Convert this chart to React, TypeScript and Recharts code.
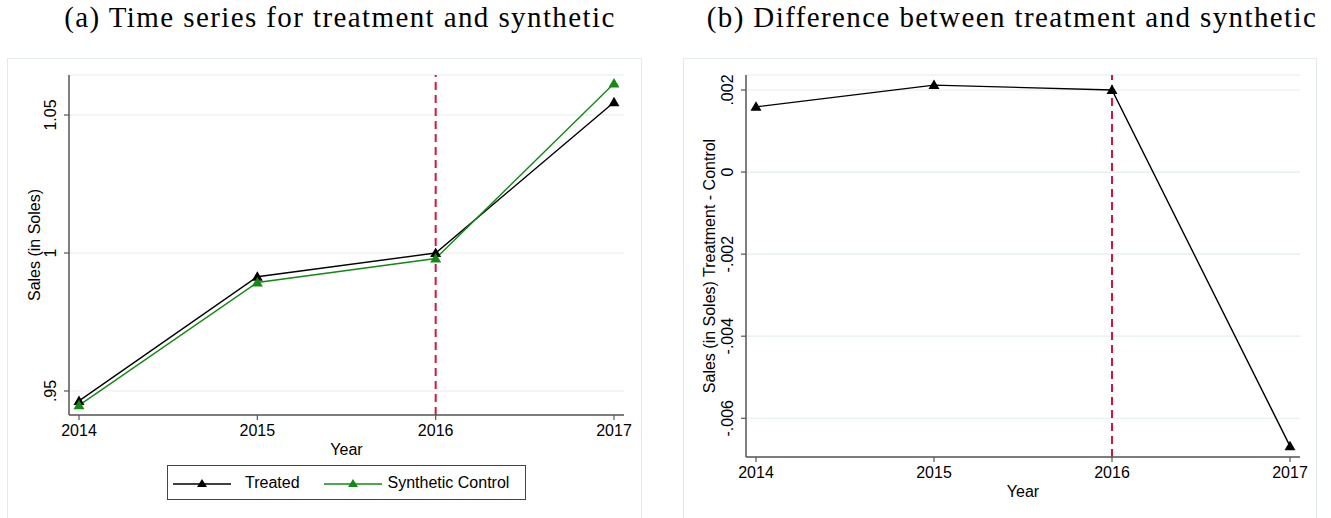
import React from 'react';
import { LineChart, Line, XAxis, YAxis, CartesianGrid, ReferenceLine, Label } from 'recharts';

const YEARS = [2014, 2015, 2016, 2017];
const TREATED = [0.9464, 0.9914, 1.0, 1.0546];
const SYNTHETIC = [0.9448, 0.9893, 0.998, 1.0614];
const DIFF = [0.00159, 0.00212, 0.002, -0.00668];

const LEVEL_TICKS = [0.95, 1, 1.05];
const DIFF_TICKS = [-0.006, -0.004, -0.002, 0, 0.002];

const TREATMENT_YEAR = 2016;

const SANS = '"Liberation Sans", Arial, sans-serif';
const SERIF = '"Liberation Serif", "Times New Roman", serif';
const AXIS = '#555';
const GRID = '#e3ecee';
const GREEN = '#138a13';
const RED = '#d4163e';
const FS = 16;

const levelData = YEARS.map((year, i) => ({ year, treated: TREATED[i], synthetic: SYNTHETIC[i] }));
const diffData = YEARS.map((year, i) => ({ year, diff: DIFF[i] }));

// stata-style labels: .95, -.004
const fmt = (v: number) => (v === 0 ? '0' : String(v).replace(/^(-?)0\./, '$1.'));

const RotTick = (props: any) => {
  const { x, y, payload } = props;
  return (
    <text x={x} y={y} transform={`rotate(-90 ${x} ${y})`} textAnchor="middle"
      fontSize={FS} fontFamily={SANS} fill="#000">
      {fmt(payload.value)}
    </text>
  );
};

const triDot = (color: string) => (props: any) => {
  const { cx, cy, index } = props;
  if (cx == null || cy == null) return <g key={index} />;
  return (
    <polygon key={index} fill={color}
      points={`${cx},${cy - 5.5} ${cx - 5.5},${cy + 4} ${cx + 5.5},${cy + 4}`} />
  );
};

const yTitle = (text: string, baseX: number) => (props: any) => {
  const vb = props.viewBox;
  const cy = vb.y + vb.height / 2;
  return (
    <text x={baseX} y={cy} transform={`rotate(-90 ${baseX} ${cy})`} textAnchor="middle"
      fontSize={FS} fontFamily={SANS} fill="#000">{text}</text>
  );
};

const xTitle = (props: any) => {
  const vb = props.viewBox;
  return (
    <text x={vb.x + vb.width / 2} y={vb.y + 40} textAnchor="middle"
      fontSize={FS} fontFamily={SANS} fill="#000">Year</text>
  );
};

const panelBox: React.CSSProperties = {
  position: 'absolute', top: 58, height: 470, border: '1px solid #e2eaee', boxSizing: 'border-box',
};

const titleStyle: React.CSSProperties = {
  position: 'absolute', top: 1, fontFamily: SERIF, fontSize: 29, letterSpacing: 1.4,
  whiteSpace: 'nowrap', color: '#000', transform: 'translateX(-50%)',
};

const LegendKey = ({ color }: { color: string }) => (
  <svg width={58} height={12} style={{ display: 'block' }}>
    <line x1={0} y1={7} x2={58} y2={7} stroke={color} strokeWidth={1.5} />
    <polygon fill={color} points="29,2 24,10 34,10" />
  </svg>
);

const axisProps = {
  stroke: AXIS,
  axisLine: { stroke: AXIS, strokeWidth: 1.5 },
  tickLine: { stroke: AXIS, strokeWidth: 1.2 },
  tickSize: 5,
};

export default function App() {
  return (
    <div style={{ position: 'absolute', left: 0, top: 0, width: 1331, height: 518, background: '#fff', overflow: 'hidden' }}>
      <div style={{ ...titleStyle, left: 340 }}>(a) Time series for treatment and synthetic</div>
      <div style={{ ...titleStyle, left: 1012 }}>(b) Difference between treatment and synthetic</div>

      <div style={{ ...panelBox, left: 7, width: 635 }} />
      <div style={{ ...panelBox, left: 683, width: 634 }} />

      {/* levels: treated vs synthetic control */}
      <div style={{ position: 'absolute', left: 0, top: 0 }}>
        <LineChart width={660} height={518} data={levelData}
          margin={{ top: 75, right: 36, bottom: 73, left: 0 }}>
          <CartesianGrid vertical={false} stroke={GRID} strokeWidth={1.2} />
          <XAxis dataKey="year" type="number" domain={[2014, 2017]} ticks={YEARS} height={30}
            padding={{ left: 10, right: 10 }} tickMargin={5} {...axisProps}
            tick={{ fontSize: FS, fontFamily: SANS, fill: '#000' }}>
            <Label content={xTitle} />
          </XAxis>
          <YAxis type="number" width={69} domain={[0.9413, 1.0645]} ticks={LEVEL_TICKS}
            allowDataOverflow interval={0} tickMargin={8} tick={<RotTick />} {...axisProps}>
            <Label content={yTitle('Sales (in Soles)', 40)} />
          </YAxis>
          <ReferenceLine x={TREATMENT_YEAR} stroke={RED} strokeWidth={2} strokeDasharray="8 5" />
          <Line type="linear" dataKey="treated" stroke="#000" strokeWidth={1.4}
            dot={triDot('#000')} activeDot={false} isAnimationActive={false} />
          <Line type="linear" dataKey="synthetic" stroke={GREEN} strokeWidth={1.4}
            dot={triDot(GREEN)} activeDot={false} isAnimationActive={false} />
        </LineChart>
      </div>

      <div style={{
        position: 'absolute', left: 167, top: 465, width: 359, height: 35, border: '1px solid #444',
        boxSizing: 'border-box', display: 'flex', alignItems: 'center', fontFamily: SANS, fontSize: FS,
      }}>
        <div style={{ marginLeft: 5 }}><LegendKey color="#000" /></div>
        <span style={{ marginLeft: 14 }}>Treated</span>
        <div style={{ marginLeft: 24 }}><LegendKey color={GREEN} /></div>
        <span style={{ marginLeft: 6 }}>Synthetic Control</span>
      </div>

      {/* difference: treated minus synthetic */}
      <div style={{ position: 'absolute', left: 665, top: 0 }}>
        <LineChart width={666} height={518} data={diffData}
          margin={{ top: 75, right: 31, bottom: 31, left: 0 }}>
          <CartesianGrid vertical={false} stroke={GRID} strokeWidth={1.2} />
          <XAxis dataKey="year" type="number" domain={[2014, 2017]} ticks={YEARS} height={30}
            padding={{ left: 10, right: 10 }} tickMargin={5} {...axisProps}
            tick={{ fontSize: FS, fontFamily: SANS, fill: '#000' }}>
            <Label content={xTitle} />
          </XAxis>
          <YAxis type="number" width={81} domain={[-0.006944, 0.002366]} ticks={DIFF_TICKS}
            allowDataOverflow interval={0} tickMargin={8} tick={<RotTick />} {...axisProps}>
            <Label content={yTitle('Sales (in Soles) Treatment - Control', 50)} />
          </YAxis>
          <ReferenceLine x={TREATMENT_YEAR} stroke={RED} strokeWidth={2} strokeDasharray="8 5" />
          <Line type="linear" dataKey="diff" stroke="#000" strokeWidth={1.4}
            dot={triDot('#000')} activeDot={false} isAnimationActive={false} />
        </LineChart>
      </div>
    </div>
  );
}
